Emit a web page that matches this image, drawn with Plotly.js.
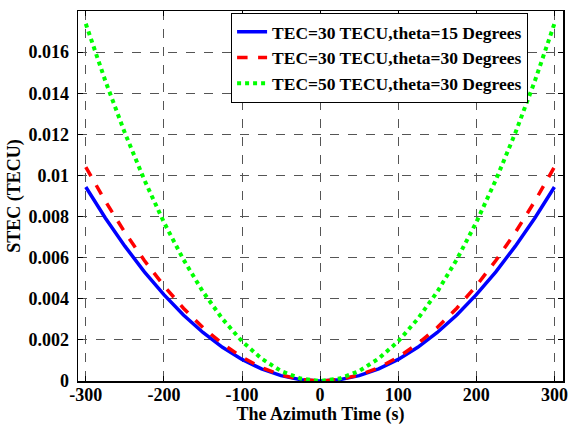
<!DOCTYPE html>
<html>
<head>
<meta charset="utf-8">
<script src="https://cdn.plot.ly/plotly-3.0.1.min.js"></script>
<style>html,body{margin:0;padding:0;background:#fff;}#chart{width:568px;height:425px;}</style>
</head>
<body>
<div id="chart"></div>
<script>
// Azimuth time (s)
const azimuthTime = [-300,-275,-250,-225,-200,-175,-150,-125,-100,-75,-50,-25,0,25,50,75,100,125,150,175,200,225,250,275,300];
// STEC (TECU)
const stecTec30Theta15 = [0.00944,0.00793,0.00656,0.00531,0.0042,0.00321,0.00236,0.00164,0.00105,0.00059,0.000262,0.0000656,0,0.0000656,0.000262,0.00059,0.00105,0.00164,0.00236,0.00321,0.0042,0.00531,0.00656,0.00793,0.00944];
const stecTec30Theta30 = [0.01041,0.00875,0.00723,0.00586,0.00463,0.00354,0.0026,0.00181,0.00116,0.00065,0.000289,0.0000723,0,0.0000723,0.000289,0.00065,0.00116,0.00181,0.0026,0.00354,0.00463,0.00586,0.00723,0.00875,0.01041];
const stecTec50Theta30 = [0.01738,0.0146,0.01207,0.00978,0.00772,0.00591,0.00434,0.00302,0.00193,0.00109,0.000483,0.000121,0,0.000121,0.000483,0.00109,0.00193,0.00302,0.00434,0.00591,0.00772,0.00978,0.01207,0.0146,0.01738];
const seriesNames = ["TEC=30 TECU,theta=15 Degrees","TEC=30 TECU,theta=30 Degrees","TEC=50 TECU,theta=30 Degrees"];
const xTickVals = [-300,-200,-100,0,100,200,300];
const xTickText = ["-300","-200","-100","0","100","200","300"];
const yTickVals = [0,0.002,0.004,0.006,0.008,0.01,0.012,0.014,0.016];
const yTickText = ["0","0.002","0.004","0.006","0.008","0.01","0.012","0.014","0.016"];

const font = {family: "Liberation Serif, Times New Roman, serif", color: "#000"};
const traces = [
  {x: azimuthTime, y: stecTec30Theta15, name: seriesNames[0], mode: "lines", line: {color: "#0000ff", width: 3.5, dash: "solid"}},
  {x: azimuthTime, y: stecTec30Theta30, name: seriesNames[1], mode: "lines", line: {color: "#ff0000", width: 3.5, dash: "dash"}},
  {x: azimuthTime, y: stecTec50Theta30, name: seriesNames[2], mode: "lines", line: {color: "#00ff00", width: 4, dash: "dot"}}
];
const axisCommon = {
  showline: true, linecolor: "#000", linewidth: 1.5, mirror: "ticks",
  ticks: "inside", ticklen: 5, tickcolor: "#000", tickwidth: 1,
  showgrid: true, gridcolor: "#555", griddash: "dash", gridwidth: 1,
  zeroline: false, ticklabeloverflow: "allow",
  tickfont: Object.assign({size: 18, weight: "bold"}, font)
};
const layout = {
  width: 568, height: 425,
  margin: {l: 78, r: 5, t: 11, b: 44},
  paper_bgcolor: "#fff", plot_bgcolor: "#fff",
  showlegend: true,
  xaxis: Object.assign({}, axisCommon, {
    range: [-310, 311], tickvals: xTickVals, ticktext: xTickText,
    ticklabelstandoff: -3,
    title: {text: "<b>The Azimuth Time (s)</b>", font: Object.assign({size: 18}, font), standoff: 3}
  }),
  yaxis: Object.assign({}, axisCommon, {
    range: [0, 0.018], tickvals: yTickVals, ticktext: yTickText,
    ticklabelstandoff: 4,
    title: {text: "<b>STEC (TECU)</b>", font: Object.assign({size: 18}, font), standoff: 3}
  }),
  legend: {
    x: 0.928, y: 0.995, xanchor: "right", yanchor: "top",
    bgcolor: "#fff", bordercolor: "#000", borderwidth: 1,
    font: Object.assign({size: 17.5, weight: "bold"}, font),
    tracegroupgap: 0, itemwidth: 30
  }
};
Plotly.newPlot("chart", traces, layout, {displayModeBar: false, staticPlot: true});
</script>
</body>
</html>
